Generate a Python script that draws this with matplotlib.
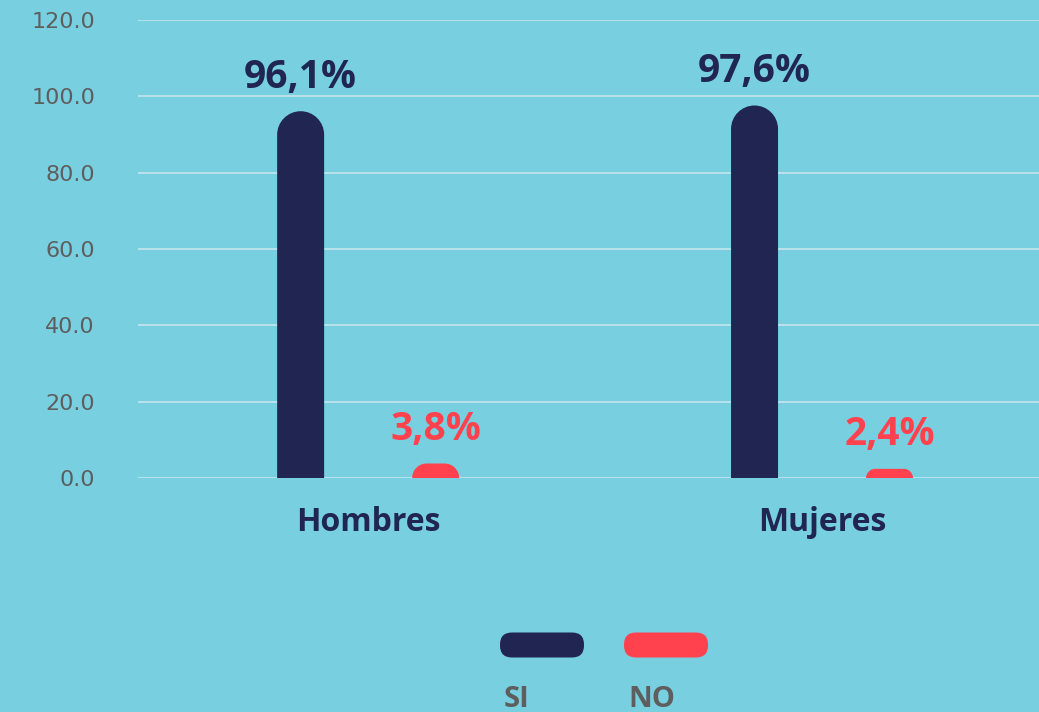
import numpy as np
import matplotlib.pyplot as plt
from matplotlib.path import Path
from matplotlib.patches import PathPatch, FancyBboxPatch

# data
categorias = ["Hombres", "Mujeres"]
serie_si = [96.1, 97.6]
serie_no = [3.8, 2.4]
etiquetas_si = ["96,1%", "97,6%"]
etiquetas_no = ["3,8%", "2,4%"]
nombres_series = ["SI", "NO"]
yticks = [0, 20, 40, 60, 80, 100, 120]

# styles
BG = "#78CFE0"
NAVY = "#202651"
RED = "#FF424E"
GRAY = "#5E5E5E"
FONT = ["Open Sans", "DejaVu Sans"]

W, H, DPI = 1039, 712, 100
fig = plt.figure(figsize=(W / DPI, H / DPI), dpi=DPI, facecolor=BG)

ax_l, ax_r, ax_b, ax_t = 138, 1039, 478, 20
ax = fig.add_axes([ax_l / W, (H - ax_b) / H, (ax_r - ax_l) / W, (ax_b - ax_t) / H])
ax.set_facecolor(BG)
xlim = (-0.507, 1.478)
ax.set_xlim(*xlim)
ax.set_ylim(0, 120)
for s in ax.spines.values():
    s.set_visible(False)

ax.set_yticks(yticks)
ax.set_yticklabels(["%.1f" % v for v in yticks], fontsize=16, color=GRAY, family="DejaVu Sans")
ax.tick_params(axis="y", length=0, pad=31)
ax.grid(axis="y", color="#C6E6EE", linewidth=1.2)
ax.set_axisbelow(True)

ax.set_xticks(range(len(categorias)))
ax.set_xticklabels(categorias, fontsize=23, fontweight="bold", color=NAVY, family=FONT)
ax.tick_params(axis="x", length=0, pad=20)

# pixel scale of data units
pxx = (ax_r - ax_l) / (xlim[1] - xlim[0])
pxy = (ax_b - ax_t) / 120.0


def round_bar(xc, w, h, color):
    w_px = w * pxx
    h_px = h * pxy
    r = min(w_px / 2, h_px)
    rx, ry = r / pxx, r / pxy
    k = 0.5523
    x0, x1 = xc - w / 2, xc + w / 2
    verts = [(x0, 0), (x0, h - ry),
             (x0, h - ry + k * ry), (x0 + rx - k * rx, h), (x0 + rx, h),
             (x1 - rx, h),
             (x1 - rx + k * rx, h), (x1, h - ry + k * ry), (x1, h - ry),
             (x1, 0), (x0, 0)]
    codes = [Path.MOVETO, Path.LINETO,
             Path.CURVE4, Path.CURVE4, Path.CURVE4,
             Path.LINETO,
             Path.CURVE4, Path.CURVE4, Path.CURVE4,
             Path.LINETO, Path.CLOSEPOLY]
    ax.add_patch(PathPatch(Path(verts, codes), facecolor=color, edgecolor="none", zorder=3))


off = 0.1487
bw = 0.1035
x = np.arange(len(categorias))
for i in range(len(categorias)):
    round_bar(x[i] - off, bw, serie_si[i], NAVY)
    round_bar(x[i] + off, bw, serie_no[i], RED)
    ax.annotate(etiquetas_si[i], (x[i] - off, serie_si[i]), xytext=(0, 17),
                textcoords="offset points", ha="center", va="baseline",
                fontsize=28, fontweight="bold", color=NAVY, family=FONT)
    ax.annotate(etiquetas_no[i], (x[i] + off, serie_no[i]), xytext=(0, 17),
                textcoords="offset points", ha="center", va="baseline",
                fontsize=28, fontweight="bold", color=RED, family=FONT)

# legend drawn by hand in figure pixels
leg_x = [500, 624]
for lx, name, col in zip(leg_x, nombres_series, [NAVY, RED]):
    fig.patches.append(FancyBboxPatch((lx + 12, H - 645.5), 60, 1,
                                      boxstyle="round,pad=12",
                                      transform=None, facecolor=col, edgecolor="none"))
    fig.text((lx + 4) / W, (H - 707) / H, name, fontsize=21, fontweight="bold",
             color=GRAY, family=FONT, ha="left", va="baseline")

fig.savefig("out.png", dpi=DPI, facecolor=BG)
